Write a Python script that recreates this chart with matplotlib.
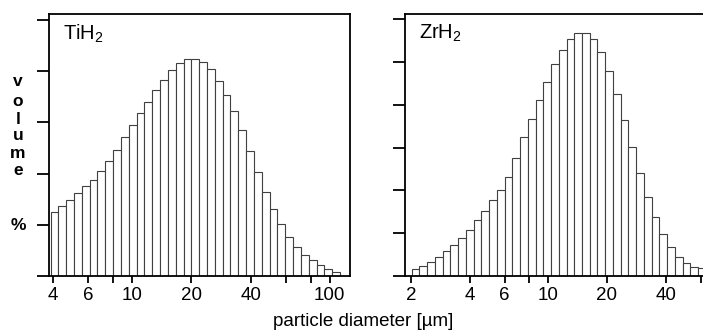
import numpy as np
import matplotlib
matplotlib.use("Agg")
import matplotlib.pyplot as plt

plt.rcParams['font.family'] = ['Liberation Sans', 'DejaVu Sans']
plt.rcParams['mathtext.default'] = 'regular'

# size classes: geometric bins, lower edge of first class and class ratio
ti_first = 3.89
zr_first = 2.016
ratio = 10 ** 0.0395

# volume per class (arbitrary units, one unit per y tick)
ti_vol = [1.25, 1.36, 1.48, 1.62, 1.75, 1.88, 2.06, 2.25, 2.47, 2.71,
          2.95, 3.18, 3.41, 3.64, 3.84, 4.02, 4.16, 4.24, 4.25, 4.19,
          4.04, 3.82, 3.53, 3.22, 2.85, 2.44, 2.04, 1.65, 1.31, 1.01,
          0.77, 0.57, 0.42, 0.31, 0.21, 0.13, 0.08]
zr_vol = [0.16, 0.23, 0.32, 0.44, 0.58, 0.72, 0.89, 1.08, 1.30, 1.53,
          1.77, 2.00, 2.31, 2.76, 3.25, 3.67, 4.11, 4.54, 4.95, 5.27,
          5.53, 5.68, 5.68, 5.53, 5.23, 4.78, 4.24, 3.64, 3.02, 2.40,
          1.85, 1.37, 0.98, 0.67, 0.44, 0.30, 0.22, 0.18]

ti_ticks = [4, 6, 8, 10, 20, 40, 60, 80, 100]
ti_labels = ['4', '6', '', '10', '20', '40', '', '', '100']
zr_ticks = [2, 4, 6, 8, 10, 20, 40, 60]
zr_labels = ['2', '4', '6', '', '10', '20', '40', '']

W, H = 703, 331
fig = plt.figure(figsize=(W / 100, H / 100), dpi=100)


def panel(rect, first, vol, ticks, labels, xlim, ylim, nyt, name):
    ax = fig.add_axes(rect)
    edges = first * ratio ** np.arange(len(vol) + 1)
    ax.bar(edges[:-1], vol, width=np.diff(edges), align='edge',
           facecolor='white', edgecolor='#404040', linewidth=0.8)
    ax.set_xscale('log')
    ax.set_xlim(*xlim)
    ax.set_ylim(0, ylim)
    ax.set_xticks(ticks)
    ax.set_xticklabels(labels)
    ax.xaxis.set_minor_locator(matplotlib.ticker.NullLocator())
    ax.set_yticks(range(nyt))
    ax.set_yticklabels([])
    ax.tick_params(axis='y', direction='out', length=9, width=1.3)
    ax.tick_params(axis='x', direction='out', length=5, width=1.3,
                   labelsize=13.5, pad=3)
    for s in ax.spines.values():
        s.set_linewidth(1.3)
    ax.text(0.045, 0.965, name, transform=ax.transAxes, fontsize=14.5,
            va='top', ha='left')
    return ax


panel([49 / W, 55 / H, 301 / W, 262 / H], ti_first, ti_vol,
      ti_ticks, ti_labels, (3.82, 126.5), 5.12, 6, 'TiH$_2$')
panel([405 / W, 55 / H, 301 / W, 262 / H], zr_first, zr_vol,
      zr_ticks, zr_labels, (1.864, 64.0), 6.12, 7, 'ZrH$_2$')

# vertical axis label, one letter per line
for ch, yp in zip('volume%', [82, 101, 119, 136, 153, 170, 226]):
    fig.text(18 / W, 1 - yp / H, ch, fontsize=12.5, fontweight='bold',
             ha='center', va='center')

fig.text(363 / W, 1 - 322 / H, 'particle diameter [µm]', fontsize=13.5,
         ha='center', va='center')

fig.savefig('out.png', dpi=100)
